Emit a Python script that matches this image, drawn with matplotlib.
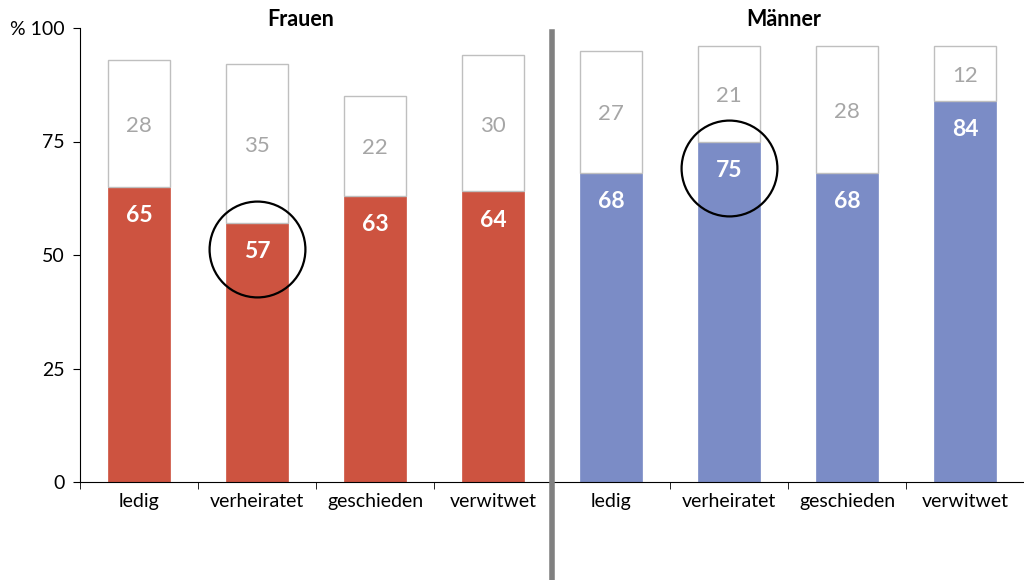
import matplotlib.pyplot as plt
from matplotlib.lines import Line2D

# data
categories = ["ledig", "verheiratet", "geschieden", "verwitwet"]
groups = ["Frauen", "Männer"]
frauen_main = [65, 57, 63, 64]
frauen_rest = [28, 35, 22, 30]
maenner_main = [68, 75, 68, 84]
maenner_rest = [27, 21, 28, 12]
colors = ["#CD5340", "#7B8CC6"]
# circled bars: (slot index, circle centre in % units)
circles = [(1, 51.3), (5, 69.2)]
title_x = [1.87, 5.96]

plt.rcParams['font.family'] = ['Lato', 'DejaVu Sans']

fig = plt.figure(figsize=(10.24, 5.8), dpi=100)
ax = fig.add_axes([80 / 1024, 1 - 482 / 580, 1 - 80 / 1024, (482 - 28) / 580])

mains = [frauen_main, maenner_main]
rests = [frauen_rest, maenner_rest]
for g in range(2):
    xs = [g * 4 + i + 0.5 for i in range(4)]
    ax.bar(xs, mains[g], width=0.53, color=colors[g], edgecolor=colors[g], linewidth=0.5)
    ax.bar(xs, rests[g], bottom=mains[g], width=0.53, color="white",
           edgecolor="#BFBFBF", linewidth=1)
    for x, m, r in zip(xs, mains[g], rests[g]):
        ax.text(x, m - 6.3, str(m), ha="center", va="center", color="white",
                fontsize=16.5, fontweight="bold")
        ax.text(x, m + r / 2 - 0.5, str(r), ha="center", va="center", color="#A6A6A6",
                fontsize=16)
    ax.text(title_x[g], 99.6, groups[g], ha="center", va="bottom", fontsize=15.5,
            fontweight="bold")

for slot, cy in circles:
    ax.plot(slot + 0.5, cy, marker="o", markersize=69, markerfacecolor="none",
            markeredgecolor="black", markeredgewidth=1.6, clip_on=False)

ax.set_xlim(0, 8)
ax.set_ylim(0, 100)
ax.set_yticks([0, 25, 50, 75, 100])
ax.set_yticklabels(["0", "25", "50", "75", "% 100"], fontsize=14)
ax.set_xticks([i + 0.5 for i in range(8)])
ax.set_xticklabels(categories * 2, fontsize=14)
ax.set_xticks(range(0, 8), minor=True)
ax.tick_params(axis="x", which="major", length=0, pad=8)
ax.tick_params(axis="x", which="minor", length=5, direction="out")
ax.tick_params(axis="y", length=5, direction="out", pad=6)
for s in ["top", "right"]:
    ax.spines[s].set_visible(False)

# divider between the groups
fig.add_artist(Line2D([552 / 1024, 552 / 1024], [0, 1 - 32 / 580],
                      color="#808080", linewidth=4))

fig.savefig("out.png", dpi=100)
